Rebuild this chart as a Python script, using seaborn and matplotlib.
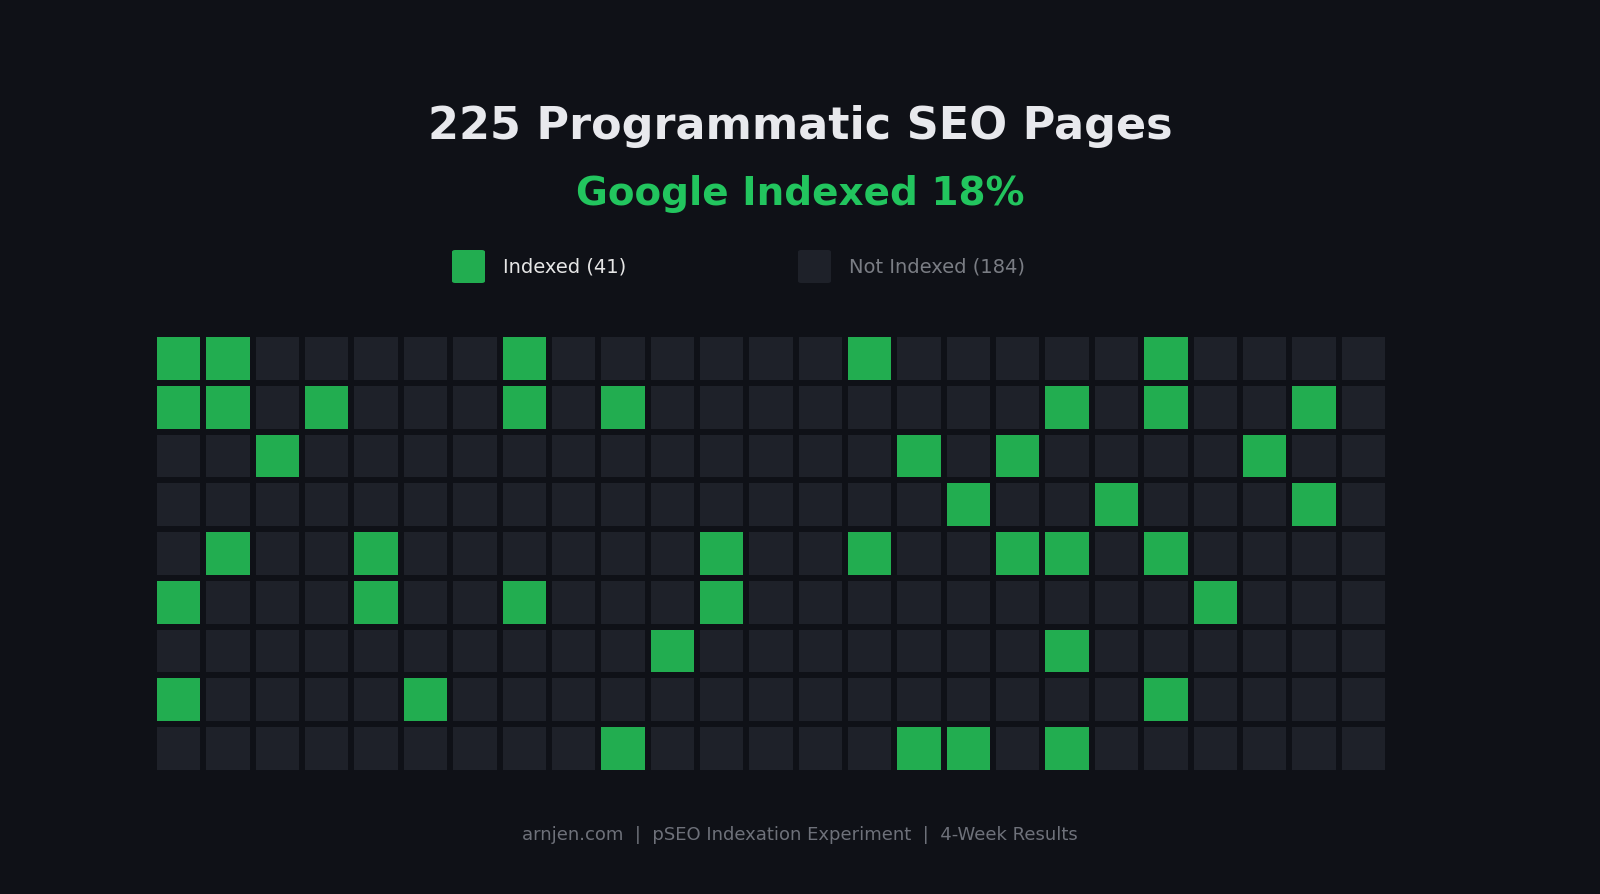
import numpy as np
import pandas as pd
import matplotlib
matplotlib.use("Agg")
import matplotlib.pyplot as plt
import seaborn as sns
from matplotlib.colors import ListedColormap
from matplotlib.patches import FancyBboxPatch

# ---- data ----
n_rows = 9
n_cols = 25
# columns of indexed pages in each row of the grid
indexed_row0 = [0, 1, 7, 14, 20]
indexed_row1 = [0, 1, 3, 7, 9, 18, 20, 23]
indexed_row2 = [2, 15, 17, 22]
indexed_row3 = [16, 19, 23]
indexed_row4 = [1, 4, 11, 14, 17, 18, 20]
indexed_row5 = [0, 4, 7, 11, 21]
indexed_row6 = [10, 18]
indexed_row7 = [0, 5, 20]
indexed_row8 = [9, 15, 16, 18]
indexed_rows = [indexed_row0, indexed_row1, indexed_row2, indexed_row3, indexed_row4,
                indexed_row5, indexed_row6, indexed_row7, indexed_row8]

title = "225 Programmatic SEO Pages"
subtitle = "Google Indexed 18%"
legend_labels = ["Indexed (41)", "Not Indexed (184)"]
footer = "arnjen.com  |  pSEO Indexation Experiment  |  4-Week Results"

grid = np.zeros((n_rows, n_cols), dtype=int)
for r, cols in enumerate(indexed_rows):
    for c in cols:
        grid[r, c] = 1
df = pd.DataFrame(grid)

# ---- style ----
BG = "#0f1117"
GREEN = "#22ad50"
DARK = "#1e2129"
sns.set_theme(style="dark")
plt.rcParams['font.family'] = ['DejaVu Sans']

W, H = 1600, 895
fig = plt.figure(figsize=(16, 8.95), dpi=100, facecolor=BG)

left, right, top, bottom = 154, 1388, 335, 774
ax = fig.add_axes([left / W, 1 - bottom / H, (right - left) / W, (bottom - top) / H])
ax.set_facecolor(BG)
sns.heatmap(df, ax=ax, cmap=ListedColormap([DARK, GREEN]), vmin=0, vmax=1,
            cbar=False, linewidths=3.0, linecolor=BG, square=False,
            xticklabels=False, yticklabels=False)
for s in ax.spines.values():
    s.set_visible(False)

# texts
fig.text(0.5, 1 - 126 / H, title, ha="center", va="center", color="#e8e9ed",
         fontsize=32, fontweight="bold")
fig.text(0.5, 1 - 194 / H, subtitle, ha="center", va="center", color="#22c55e",
         fontsize=28, fontweight="bold")

# legend
sq = 33
for x0, color, label, tcolor in [(452, GREEN, legend_labels[0], "#e6e6e6"),
                                 (798, DARK, legend_labels[1], "#7a7d84")]:
    p = FancyBboxPatch((x0 / W, 1 - 284 / H), sq / W, sq / H,
                       boxstyle="round,pad=0,rounding_size=0.002",
                       transform=fig.transFigure, facecolor=color, edgecolor="none")
    fig.patches.append(p)
    fig.text((x0 + sq + 18) / W, 1 - 267 / H, label, ha="left", va="center",
             color=tcolor, fontsize=14)

fig.text(0.5, 1 - 835 / H, footer, ha="center", va="center", color="#6e717a",
         fontsize=13)

fig.savefig("out.png", dpi=100, facecolor=BG)
